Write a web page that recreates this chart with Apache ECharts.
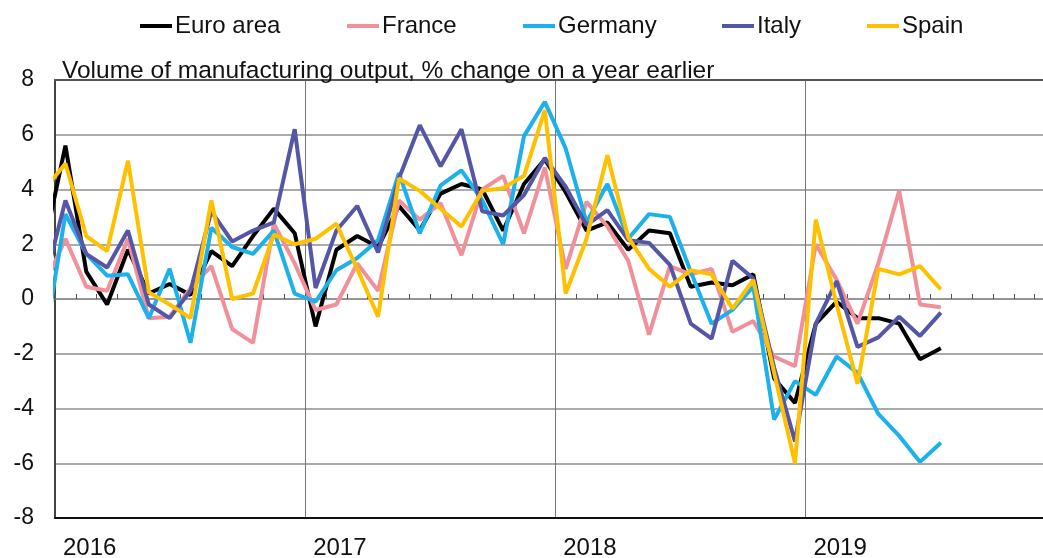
<!DOCTYPE html>
<html>
<head>
<meta charset="utf-8">
<script src="https://cdn.jsdelivr.net/npm/echarts@6/dist/echarts.min.js"></script>
<style>
    html, body { margin: 0; padding: 0; background: #fff; }
    #chart { width: 1043px; height: 558px; }
</style>
</head>
<body>
<div id="chart"></div>
<script>
// monthly data, Dec 2015 .. Jul 2019 (first point sits just left of the axis and gets clipped)
const startYear = 2015;
const startMonth = 11; // 0-based, December
const yearLabels = ['2016', '2017', '2018', '2019'];
const xMax = 47.4; // the plot runs off the right edge a little before end-2019

const euroArea = [2.0, 5.6, 1.0, -0.2, 1.8, 0.2, 0.55, 0.15, 1.75, 1.2, 2.3, 3.3, 2.4,
    -1.0, 1.8, 2.3, 1.9, 3.4, 2.5, 3.85, 4.2, 4.0, 2.5, 4.2, 5.1,
    3.9, 2.5, 2.8, 1.8, 2.5, 2.4, 0.45, 0.6, 0.5, 0.9, -2.9, -3.8,
    -0.9, -0.1, -0.7, -0.7, -0.9, -2.2, -1.8];
const france = [0.5, 2.2, 0.45, 0.3, 2.2, -0.7, -0.65, 0.4, 1.2, -1.1, -1.6, 2.75, 1.3,
    -0.4, -0.2, 1.3, 0.3, 3.6, 2.9, 3.5, 1.6, 4.0, 4.5, 2.4, 4.8,
    1.1, 3.55, 2.65, 1.4, -1.3, 1.2, 0.9, 1.1, -1.2, -0.8, -2.1, -2.45,
    2.0, 0.7, -0.9, 1.3, 3.95, -0.2, -0.3];
const germany = [-1.6, 3.1, 1.65, 0.85, 0.9, -0.7, 1.1, -1.6, 2.6, 1.9, 1.65, 2.5, 0.2,
    -0.1, 1.05, 1.5, 2.15, 4.6, 2.4, 4.15, 4.7, 3.6, 2.0, 5.95, 7.2,
    5.5, 2.8, 4.2, 2.2, 3.1, 3.0, 1.0, -0.9, -0.4, 0.45, -4.4, -3.0,
    -3.5, -2.1, -2.7, -4.2, -5.0, -5.95, -5.25];
const italy = [0.6, 3.6, 1.65, 1.15, 2.5, -0.2, -0.7, 0.3, 3.2, 2.1, 2.5, 2.8, 6.2,
    0.4, 2.5, 3.4, 1.7, 4.4, 6.35, 4.85, 6.2, 3.2, 3.05, 3.8, 5.15,
    4.1, 2.7, 3.25, 2.15, 2.05, 1.25, -0.9, -1.45, 1.4, 0.75, -2.5, -5.2,
    -0.9, 0.65, -1.75, -1.4, -0.65, -1.35, -0.5];
const spain = [4.0, 4.95, 2.3, 1.75, 5.05, 0.25, -0.2, -0.7, 3.6, 0.0, 0.2, 2.35, 2.0,
    2.2, 2.75, 1.1, -0.65, 4.4, 3.95, 3.3, 2.65, 3.95, 4.05, 4.5, 6.9,
    0.2, 2.2, 5.25, 2.25, 1.1, 0.45, 1.05, 0.9, -0.35, 0.7, -2.7, -6.0,
    2.9, -0.2, -3.1, 1.1, 0.9, 1.2, 0.35];

const seriesNames = ['Euro area', 'France', 'Germany', 'Italy', 'Spain'];
const seriesData = [euroArea, france, germany, italy, spain];
const seriesColors = ['#000000', '#f0909a', '#1cb1ea', '#5656a6', '#ffc000'];
const legendLeft = [135, 342, 518, 717, 862];

const font = 'Liberation Sans, Arial, sans-serif';
const gridColor = '#8e8e8e';

// x value = months since Jan 2016, point placed mid-month
function monthPos(idx) {
    const m = startYear * 12 + startMonth + idx - 2016 * 12;
    return m + 0.5;
}

const chart = echarts.init(document.getElementById('chart'), null, {renderer: 'canvas'});

const series = seriesNames.map(function(name, k) {
    return {
        name: name,
        type: 'line',
        xAxisIndex: 0,
        yAxisIndex: 0,
        symbol: 'none',
        clip: true,
        lineStyle: { width: 4, color: seriesColors[k] },
        itemStyle: { color: seriesColors[k] },
        data: seriesData[k].map(function(v, i) { return [monthPos(i), v]; })
    };
});

const legends = seriesNames.map(function(name, k) {
    return {
        data: [name],
        left: legendLeft[k],
        top: 9,
        icon: 'rect',
        itemWidth: 32,
        itemHeight: 4,
        itemGap: 0,
        textStyle: { fontFamily: font, fontSize: 24, color: '#111', padding: [0, 0, 0, -2] }
    };
});

const option = {
    animation: false,
    backgroundColor: '#fff',
    title: {
        text: 'Volume of manufacturing output, % change on a year earlier',
        left: 57,
        top: 54,
        textStyle: { fontFamily: font, fontSize: 24.5, fontWeight: 'normal', color: '#111' }
    },
    legend: legends,
    grid: { left: 55, right: 0, top: 80, bottom: 40, outerBoundsMode: 'none' },
    xAxis: [
        {
            // month ticks on the zero line
            type: 'value',
            min: 0,
            max: xMax,
            interval: 1,
            position: 'bottom',
            axisLine: { show: true, onZero: true, lineStyle: { color: gridColor, width: 1.5 } },
            axisTick: { show: true, inside: true, length: 5, lineStyle: { color: '#555', width: 1 } },
            axisLabel: { show: false },
            splitLine: { show: false }
        },
        {
            // year labels and year dividers
            type: 'value',
            min: 0,
            max: xMax,
            interval: 12,
            position: 'bottom',
            axisLine: { show: true, onZero: false, lineStyle: { color: '#111', width: 2 } },
            axisTick: { show: false },
            axisLabel: {
                margin: 18,
                align: 'left',
                padding: [0, 0, 0, 8],
                fontFamily: font,
                fontSize: 24,
                color: '#111',
                formatter: function(v) {
                    const k = Math.round(v / 12);
                    return yearLabels[k] !== undefined && v % 12 === 0 ? yearLabels[k] : '';
                }
            },
            splitLine: { show: true, lineStyle: { color: '#777', width: 1 } }
        },
        {
            // top border
            type: 'value',
            min: 0,
            max: xMax,
            position: 'top',
            axisLine: { show: true, onZero: false, lineStyle: { color: '#555', width: 2 } },
            axisTick: { show: false },
            axisLabel: { show: false },
            splitLine: { show: false }
        }
    ],
    yAxis: {
        type: 'value',
        min: -8,
        max: 8,
        interval: 2,
        axisLine: { show: true, lineStyle: { color: '#444', width: 2 } },
        axisTick: { show: false },
        axisLabel: { margin: 21, fontFamily: font, fontSize: 23, color: '#111' },
        splitLine: { show: true, lineStyle: { color: gridColor, width: 1.5 } }
    },
    series: series
};

chart.setOption(option);
</script>
</body>
</html>
